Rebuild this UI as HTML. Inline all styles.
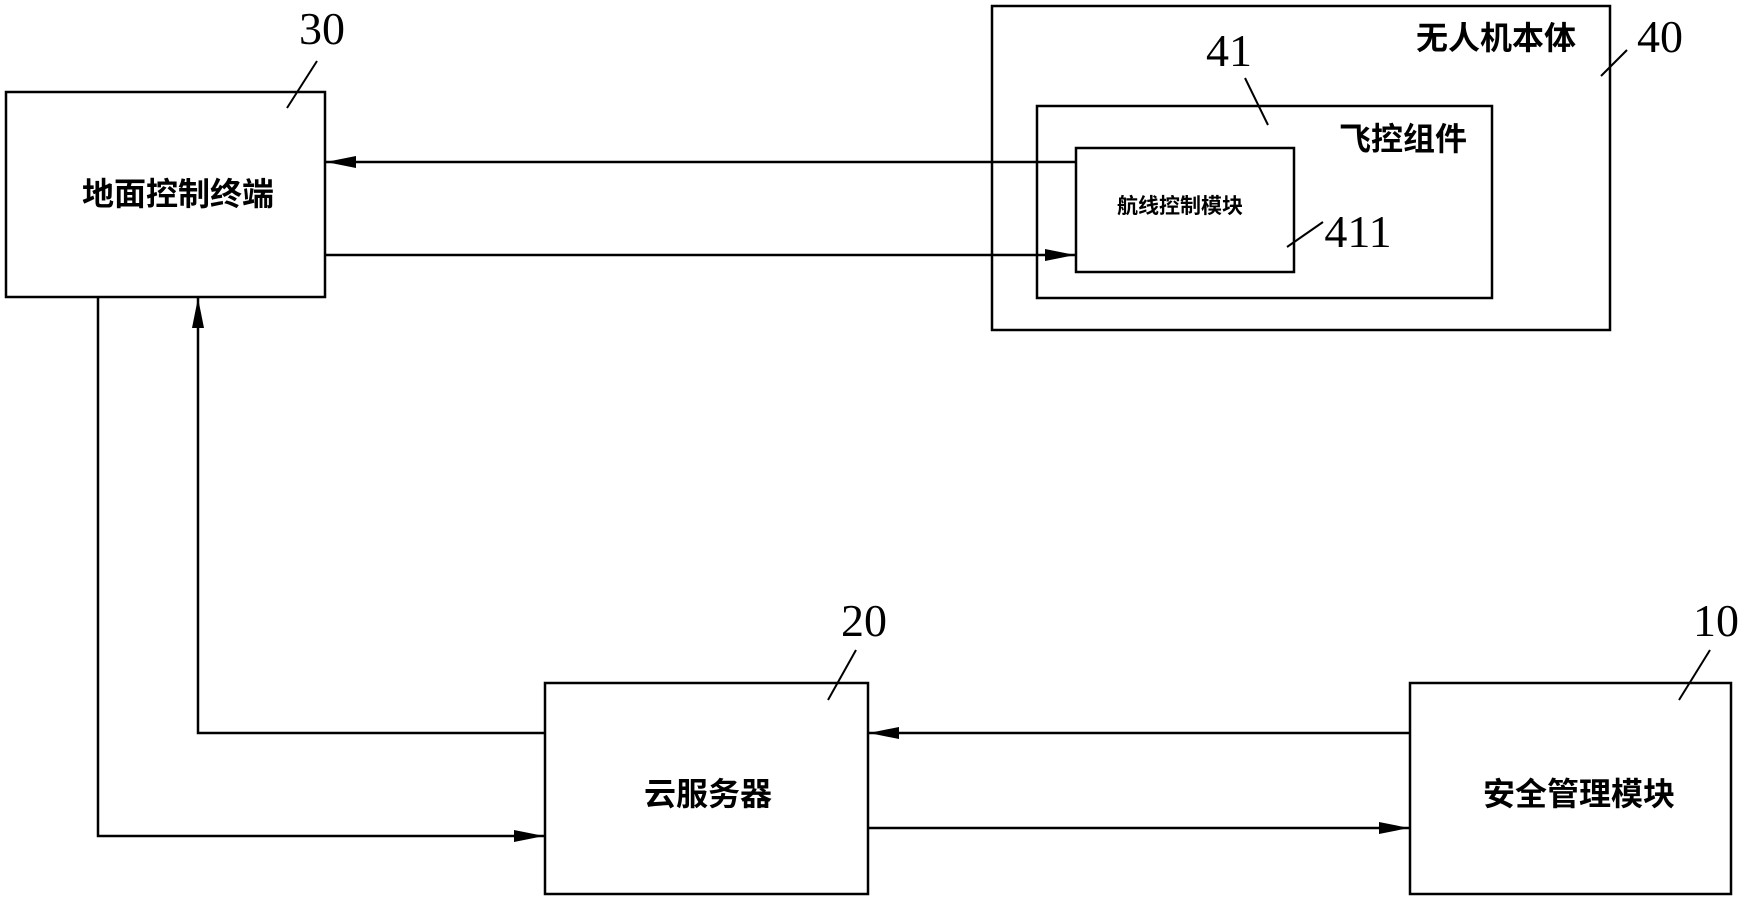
<!DOCTYPE html>
<html><head><meta charset="utf-8"><style>
html,body{margin:0;padding:0;background:#fff}
svg{display:block}
.c{font-family:"Liberation Sans","Noto Sans CJK SC",sans-serif;font-weight:bold}
.n{font-family:"Liberation Serif",serif;font-size:46px}
</style></head><body>
<svg width="1741" height="903" viewBox="0 0 1741 903" xmlns="http://www.w3.org/2000/svg">
<defs><marker id="a" markerWidth="30" markerHeight="12" refX="30" refY="6" orient="auto" markerUnits="userSpaceOnUse"><path d="M0,0 L30,6 L0,12 Z" fill="#000"/></marker></defs>
<g fill="none" stroke="#000" stroke-width="2.5">
<rect x="6" y="92" width="319" height="205"/>
<rect x="992" y="6" width="618" height="324"/>
<rect x="1037" y="106" width="455" height="192"/>
<rect x="1076" y="148" width="218" height="124"/>
<rect x="545" y="683" width="323" height="211"/>
<rect x="1410" y="683" width="321" height="211"/>
<line x1="1076" y1="162" x2="326" y2="162" marker-end="url(#a)"/>
<line x1="325" y1="255" x2="1075" y2="255" marker-end="url(#a)"/>
<polyline points="98,297 98,836 544,836" marker-end="url(#a)"/>
<polyline points="545,733 198,733 198,298" marker-end="url(#a)"/>
<line x1="1410" y1="733" x2="869" y2="733" marker-end="url(#a)"/>
<line x1="868" y1="828" x2="1409" y2="828" marker-end="url(#a)"/>
<g stroke-width="2">
<line x1="287" y1="108" x2="317" y2="61"/>
<line x1="1601" y1="76" x2="1627" y2="50"/>
<line x1="1268" y1="125" x2="1245" y2="78"/>
<line x1="1287" y1="247" x2="1323" y2="222"/>
<line x1="828" y1="700" x2="856" y2="650"/>
<line x1="1679" y1="700" x2="1710" y2="650"/>
</g></g>
<g text-anchor="middle">
<text class="n" x="322" y="44">30</text>
<text class="n" x="1660" y="52">40</text>
<text class="n" x="1229" y="66">41</text>
<text class="n" x="1358" y="247">411</text>
<text class="n" x="864" y="636">20</text>
<text class="n" x="1716" y="636">10</text>
<text class="c" x="178" y="205" font-size="32">地面控制终端</text>
<text class="c" x="1496" y="49" font-size="32">无人机本体</text>
<text class="c" x="1403" y="150" font-size="32">飞控组件</text>
<text class="c" x="1180" y="213" font-size="21">航线控制模块</text>
<text class="c" x="708" y="805" font-size="32">云服务器</text>
<text class="c" x="1579" y="805" font-size="32">安全管理模块</text>
</g>
</svg>
</body></html>
